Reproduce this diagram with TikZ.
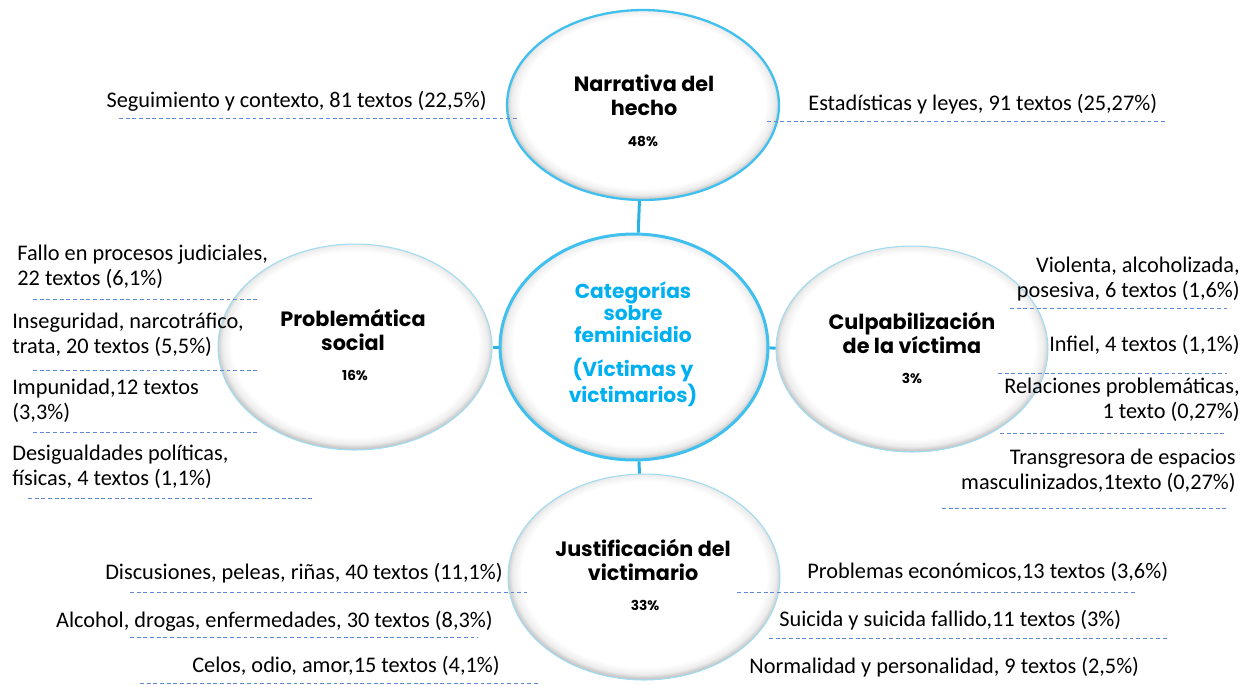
\documentclass[tikz,border=0pt]{standalone}
\usepackage{fontspec}
\setmainfont{Carlito}
\newfontfamily\headfont{Poppins}
\usetikzlibrary{shapes.geometric,calc}

\definecolor{ringblue}{RGB}{64,192,238}
\definecolor{ringlight}{RGB}{160,221,243}
\definecolor{linkblue}{RGB}{41,178,230}
\definecolor{titlecyan}{RGB}{0,176,240}
\definecolor{dashblue}{RGB}{96,134,214}

\pgfdeclareradialshading{bubbleshade}{\pgfpoint{0bp}{1.2bp}}{%
  color(0bp)=(white); color(22.5bp)=(white); color(24.2bp)=(black!7);
  color(25.2bp)=(black!22); color(50bp)=(black!22)}

\tikzset{
  bubble/.style={ellipse, inner sep=0pt, shade, shading=bubbleshade,
    draw=ringlight, line width=0.6pt},
  bubblebold/.style={bubble, draw=ringblue, line width=1.3pt},
  cattitle/.style={font=\headfont\bfseries\fontsize{11.8}{13.6}\selectfont,
    align=center, inner sep=0pt},
  catpct/.style={font=\headfont\bfseries\fontsize{7.8}{8}\selectfont, inner sep=0pt},
  itemtext/.style={font=\fontsize{12.7}{14.5}\selectfont, inner sep=0pt},
  dashrule/.style={draw=dashblue, line width=0.5pt, dash pattern=on 2.2pt off 1.6pt},
  link/.style={draw=linkblue, line width=1.7pt}
}

\begin{document}
\begin{tikzpicture}[x=0.02cm, y=-0.02cm]

  \useasboundingbox (0,0) rectangle (1250,684);

  %% the five ellipses
  \node[bubblebold, minimum width=5.44cm, minimum height=3.8cm] (narr) at (643,105) {};
  \node[bubblebold, line width=1.7pt, minimum width=5.36cm, minimum height=4.52cm] (cent) at (634,347) {};
  \node[bubble, minimum width=5.48cm, minimum height=4.12cm] (prob) at (355,347) {};
  \node[bubble, minimum width=5.44cm, minimum height=4.12cm] (cult) at (912,349) {};
  \node[bubble, minimum width=5.44cm, minimum height=4.12cm] (just) at (644,577) {};

  %% links to the centre
  \draw[link] (cent) -- (narr);
  \draw[link] (cent) -- (prob);
  \draw[link] (cent) -- (cult);
  \draw[link] (cent) -- (just);

  %% titles
  \node[cattitle] (narrT) at (644,95) {Narrativa del\\hecho};
  \node[catpct] (narrP) at (643,141) {48\%};
  \node[cattitle, text=titlecyan, font=\headfont\bfseries\fontsize{11.5}{12.5}\selectfont]
    (centT) at (633,344) {Categorías\\sobre\\feminicidio\\[7pt](Víctimas y\\victimarios)};
  \node[cattitle] (probT) at (353,330) {Problemática\\social};
  \node[catpct] (probP) at (355,375) {16\%};
  \node[cattitle] (cultT) at (912,333) {Culpabilización\\de la víctima};
  \node[catpct] (cultP) at (912,378) {3\%};
  \node[cattitle] (justT) at (643,560) {Justificación del\\victimario};
  \node[catpct] (justP) at (645,605) {33\%};

  %% top
  \node[itemtext, anchor=east] (seg) at (487,101) {Seguimiento y contexto, 81 textos (22,5\%)};
  \node[itemtext, anchor=west] (est) at (808,104) {Estadísticas y leyes, 91 textos (25,27\%)};
  \draw[dashrule] (119,118) -- (517,118);
  \draw[dashrule] (767,121) -- (1165,121);

  %% left
  \node[itemtext, anchor=west, align=left] (fallo) at (17,267) {Fallo en procesos judiciales,\\22 textos (6,1\%)};
  \node[itemtext, anchor=west, align=left] (inseg) at (12,335) {Inseguridad, narcotráfico,\\trata, 20 textos (5,5\%)};
  \node[itemtext, anchor=west, align=left] (impun) at (12,401) {Impunidad,12 textos\\(3,3\%)};
  \node[itemtext, anchor=west, align=left] (desig) at (12,467) {Desigualdades políticas,\\físicas, 4 textos (1,1\%)};
  \draw[dashrule] (33,299) -- (260,299);
  \draw[dashrule] (33,370) -- (257,370);
  \draw[dashrule] (33,432) -- (260,432);
  \draw[dashrule] (28,498) -- (313,498);

  %% right
  \node[itemtext, anchor=east, align=right] (viol) at (1240,279) {Violenta, alcoholizada,\\posesiva, 6 textos (1,6\%)};
  \node[itemtext, anchor=east] (infiel) at (1240,345) {Infiel, 4 textos (1,1\%)};
  \node[itemtext, anchor=east, align=right] (relac) at (1240,400) {Relaciones problemáticas,\\1 texto (0,27\%)};
  \node[itemtext, anchor=east, align=right] (transg) at (1236,471) {Transgresora de espacios\\masculinizados,1texto (0,27\%)};
  \draw[dashrule] (1010,308) -- (1227,308);
  \draw[dashrule] (998,373) -- (1227,373);
  \draw[dashrule] (1000,433) -- (1227,433);
  \draw[dashrule] (942,508) -- (1227,508);

  %% bottom left
  \node[itemtext, anchor=east] (disc) at (503,573) {Discusiones, peleas, riñas, 40 textos (11,1\%)};
  \node[itemtext, anchor=east] (alco) at (493,621) {Alcohol, drogas, enfermedades, 30 textos (8,3\%)};
  \node[itemtext, anchor=east] (celos) at (500,666) {Celos, odio, amor,15 textos (4,1\%)};
  \draw[dashrule] (130,592) -- (527,592);
  \draw[dashrule] (130,637) -- (478,637);
  \draw[dashrule] (140,683) -- (540,683);

  %% bottom right
  \node[itemtext, anchor=west] (econ) at (807,572) {Problemas económicos,13 textos (3,6\%)};
  \node[itemtext, anchor=west] (suic) at (779,620) {Suicida y suicida fallido,11 textos (3\%)};
  \node[itemtext, anchor=west] (norm) at (749,667) {Normalidad y personalidad, 9 textos (2,5\%)};
  \draw[dashrule] (737,592) -- (1135,592);
  \draw[dashrule] (769,638) -- (1167,638);

\end{tikzpicture}
\end{document}
